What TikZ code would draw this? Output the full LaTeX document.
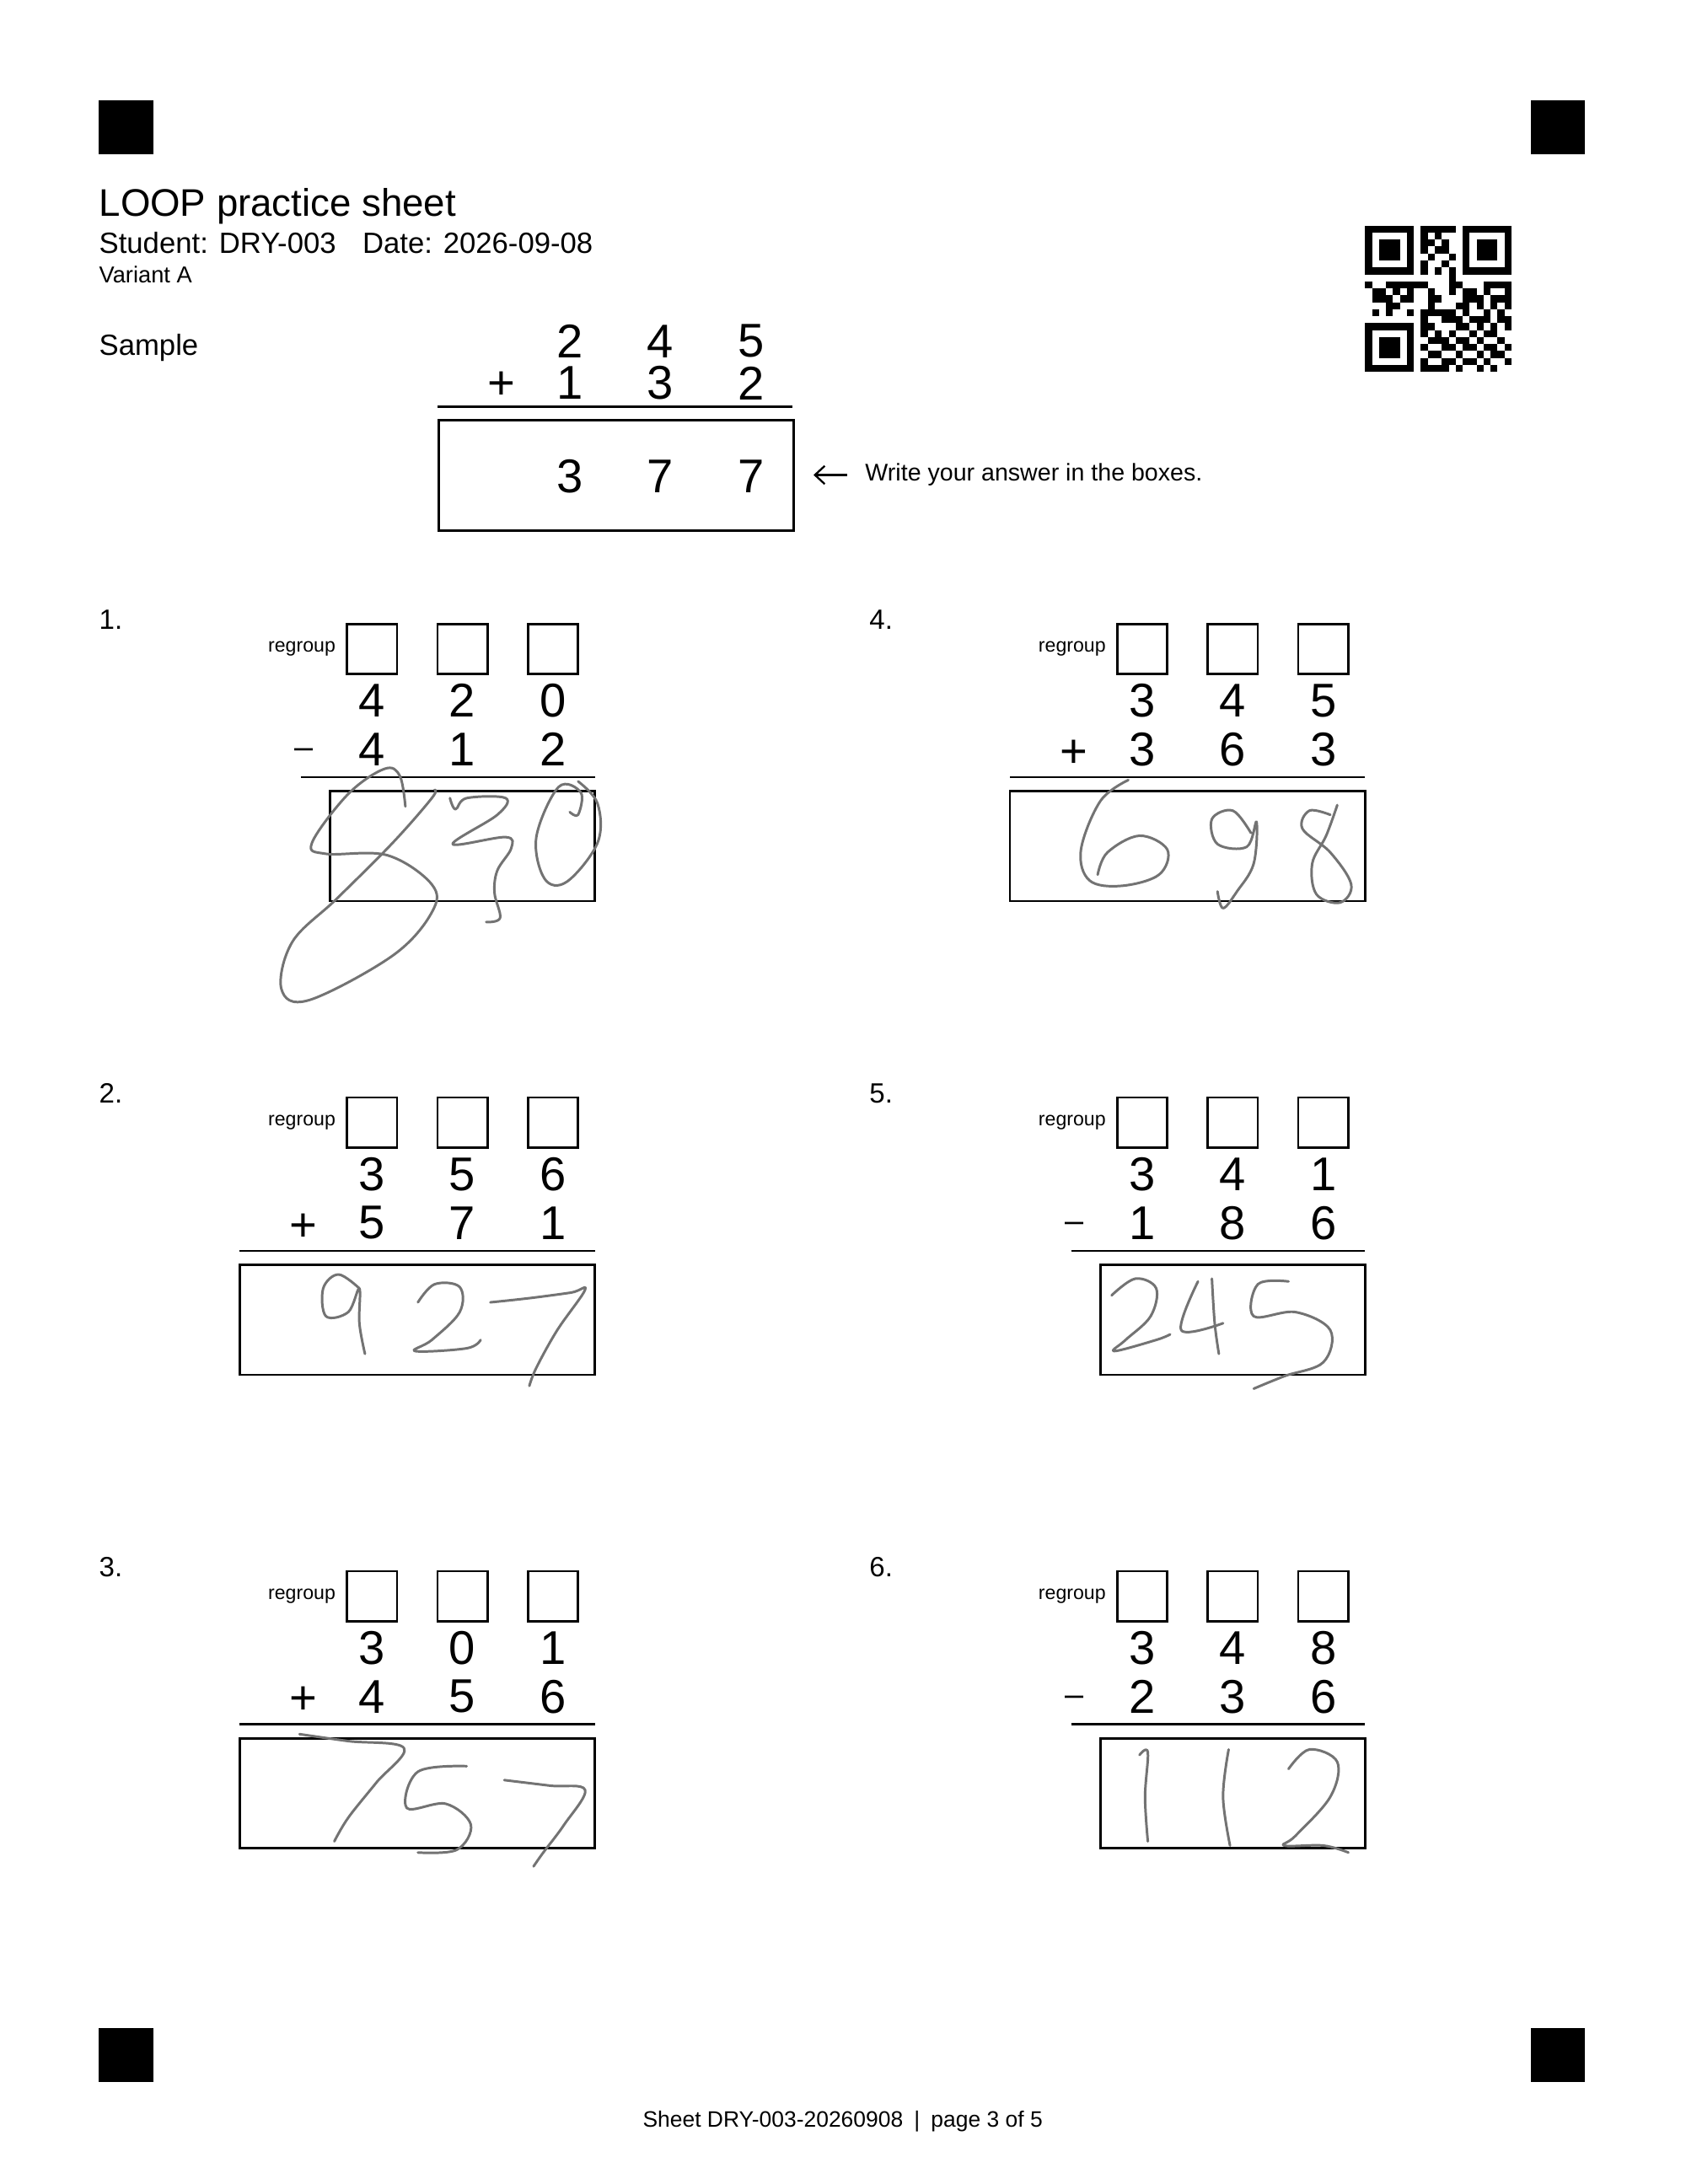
\documentclass[tikz,border=0pt]{standalone}
\usepackage{fontspec}
\setmainfont{Liberation Sans}
\usetikzlibrary{positioning,arrows.meta}

\tikzset{
  marker/.style={fill=black},
  digit/.style={anchor=center,inner sep=0pt,font=\fontsize{34}{34}\selectfont},
  ansbox/.style={draw,line width=1.6pt},
  regbox/.style={draw,line width=1.6pt,minimum size=36pt,inner sep=0pt},
  hand/.style={draw=black!55,line width=1.8pt,line cap=round,line join=round},
}

\begin{document}
\begin{tikzpicture}[x=1pt,y=-1pt]
  \useasboundingbox (0,0) rectangle (1210,1568);
  % corner markers
  \foreach \mx/\my in {71/72,1099/72,71/1456,1099/1456}
    \fill[marker] (\mx,\my) rectangle ++(39,39);

  % header
  \node[anchor=base west,font=\fontsize{27.6}{27.6}\selectfont,inner sep=0pt] (title) at (71,155) {LOOP practice sheet};
  \node[anchor=base west,font=\fontsize{21}{21}\selectfont,inner sep=0pt] (student) at (71,182) {Student: DRY-003\hspace{19pt}Date: 2026-09-08};
  \node[anchor=base west,font=\fontsize{16.5}{16.5}\selectfont,inner sep=0pt] (variant) at (71,203) {Variant A};

  % qr code
  \begin{scope}[shift={(980,162)},x=5pt,y=-5pt]
    \foreach \qx/\qy in {0/0,14/0,0/14}{
      \fill (\qx,\qy) rectangle ++(7,7);
      \fill[white] (\qx+1,\qy+1) rectangle ++(5,5);
      \fill (\qx+2,\qy+2) rectangle ++(3,3);
    }
    \foreach \c/\r in {8/0,9/0,10/0,11/0,12/0,8/1,10/1,8/2,9/2,11/2,8/3,10/3,11/3,9/4,12/4,8/5,11/5,
      8/6,10/6,12/6,12/7,0/8,3/8,4/8,5/8,6/8,7/8,8/8,12/8,13/8,17/8,18/8,19/8,20/8,
      1/9,2/9,4/9,6/9,9/9,12/9,14/9,15/9,17/9,20/9,1/10,2/10,3/10,5/10,6/10,9/10,10/10,14/10,15/10,16/10,18/10,19/10,20/10,
      3/11,4/11,9/11,13/11,14/11,16/11,18/11,20/11,1/12,3/12,6/12,8/12,9/12,10/12,11/12,12/12,14/12,17/12,19/12,
      8/13,11/13,12/13,13/13,15/13,16/13,17/13,19/13,20/13,8/14,9/14,13/14,14/14,16/14,18/14,20/14,
      8/15,10/15,12/15,15/15,17/15,18/15,9/16,10/16,11/16,13/16,14/16,16/16,19/16,
      8/17,11/17,12/17,14/17,15/17,17/17,18/17,20/17,9/18,10/18,13/18,16/18,18/18,19/18,
      8/19,11/19,12/19,14/19,15/19,17/19,20/19,8/20,9/20,10/20,11/20,13/20,16/20,18/20}
      \fill (\c,\r) rectangle ++(1,1);
  \end{scope}

  % sample
  \node[anchor=base west,font=\fontsize{21}{21}\selectfont,inner sep=0pt] (sample) at (71,255) {Sample};
  \node[digit] (s1) at (409,245) {2};
  \node[digit] (s2) at (474,245) {4};
  \node[digit] (s3) at (539,245) {5};
  \node[digit] (t1) at (409,275) {1};
  \node[digit] (t2) at (474,275) {3};
  \node[digit] (t3) at (539,275) {2};
  \node[digit] (splus) at (360,277) {+};
  \draw[line width=1.6pt] (314,292) -- (569,292);
  \node[ansbox,minimum width=255pt,minimum height=79pt,anchor=north west] (sbox) at (314,301) {};
  \node[digit] (a1) at (409,342) {3};
  \node[digit] (a2) at (474,342) {7};
  \node[digit] (a3) at (539,342) {7};
  \node[anchor=west,font=\fontsize{17.3}{17.3}\selectfont,inner sep=0pt] (hint) at (621,341) {Write your answer in the boxes.};
  \coordinate (arrtail) at (608,341);
  \coordinate (arrhead) at (584,341);
  \draw[line width=1.4pt,-{Straight Barb[length=7pt,width=13pt]}] (arrtail) -- (arrhead);

  % problems
  \foreach \n/\px/\py/\op/\ls/\a/\b/\c/\d/\e/\f in {
      1/0/0/{\fontsize{24}{24}\selectfont\textendash}/216/4/2/0/4/1/2,
      2/0/340/{+}/172/3/5/6/5/7/1,
      3/0/680/{+}/172/3/0/1/4/5/6,
      4/553/0/{+}/172/3/4/5/3/6/3,
      5/553/340/{\fontsize{24}{24}\selectfont\textendash}/216/3/4/1/1/8/6,
      6/553/680/{\fontsize{24}{24}\selectfont\textendash}/216/3/4/8/2/3/6}{
    \begin{scope}[shift={(\px,\py)}]
      \node[anchor=base west,font=\fontsize{20}{20}\selectfont,inner sep=0pt] (num\n) at (71,452) {\n.};
      \node[anchor=east,font=\fontsize{14}{14}\selectfont,inner sep=0pt] (reg\n) at (241,466) {regroup};
      \node[regbox] (rb\n a) at (267,466) {};
      \node[regbox] (rb\n b) at (332,466) {};
      \node[regbox] (rb\n c) at (397,466) {};
      \node[digit] (top\n a) at (267,503) {\a};
      \node[digit] (top\n b) at (332,503) {\b};
      \node[digit] (top\n c) at (397,503) {\c};
      \node[digit] (bot\n a) at (267,538) {\d};
      \node[digit] (bot\n b) at (332,538) {\e};
      \node[digit] (bot\n c) at (397,538) {\f};
      \node[digit] (op\n) at (218,541) {\op};
      \draw[line width=1.6pt] (\ls,558) -- (427,558);
      \ifnum\ls=216
        \draw[ansbox] (237,568) rectangle (427,647);
      \else
        \draw[ansbox] (172,568) rectangle (427,647);
      \fi
    \end{scope}
  }

  % handwritten answers
  \draw[hand] plot[smooth,tension=0.6] coordinates {(291,579) (287,557) (276,552) (250,570) (224,605) (234,613) (278,614) (310,635) (310,655) (282,686) (222,718) (202,710) (210,676) (242,645) (282,605) (310,573) (312,567)};
  \draw[hand] plot[smooth,tension=0.6] coordinates {(323,573) (327,581) (335,573) (363,573) (357,585) (325,606) (363,601) (367,609) (357,625) (355,641) (359,659) (349,662)};
  \draw[hand] plot[smooth,tension=0.6] coordinates {(409,583) (415,585) (417,569) (401,565) (385,601) (391,631) (407,633) (429,605) (429,577) (415,561)};

  \draw[hand] plot[smooth,tension=0.6] coordinates {(810,560) (790,575) (776,610) (782,632) (805,636) (832,628) (838,610) (818,600) (795,612) (788,628)};
  \draw[hand] plot[smooth,tension=0.6] coordinates {(898,598) (885,582) (870,588) (874,606) (895,608) (902,590) (900,620) (888,640) (878,652) (874,640)};
  \draw[hand] plot[smooth,tension=0.6] coordinates {(955,585) (940,582) (935,595) (955,612) (970,635) (962,648) (945,642) (942,620) (952,600) (960,578)};

  \draw[hand] plot[smooth,tension=0.6] coordinates {(258,925) (243,915) (232,925) (234,945) (250,942) (258,925) (258,950) (262,972)};
  \draw[hand] plot[smooth,tension=0.6] coordinates {(300,935) (312,922) (330,924) (330,942) (310,962) (298,970) (335,968) (345,962)};
  \draw[hand] plot[smooth,tension=0.6] coordinates {(352,935) (380,932) (410,928) (420,926) (400,955) (385,982) (380,995)};

  \draw[hand] plot[smooth,tension=0.6] coordinates {(798,930) (815,918) (830,925) (826,945) (808,962) (800,970) (830,962) (840,958)};
  \draw[hand] plot[smooth,tension=0.6] coordinates {(860,920) (848,955) (878,950)};
  \draw[hand] plot[smooth,tension=0.6] coordinates {(870,918) (872,950) (875,972)};
  \draw[hand] plot[smooth,tension=0.6] coordinates {(925,920) (903,922) (900,945) (930,942) (955,955) (950,978) (922,988) (900,997)};

  \draw[hand] plot[smooth,tension=0.6] coordinates {(215,1245) (250,1250) (290,1255) (270,1280) (250,1305) (240,1322)};
  \draw[hand] plot[smooth,tension=0.6] coordinates {(335,1268) (300,1272) (292,1298) (320,1295) (338,1310) (328,1328) (300,1330)};
  \draw[hand] plot[smooth,tension=0.6] coordinates {(362,1278) (395,1282) (420,1285) (405,1310) (390,1330) (383,1340)};

  \draw[hand] plot[smooth,tension=0.6] coordinates {(818,1260) (824,1258) (822,1290) (824,1322)};
  \draw[hand] plot[smooth,tension=0.6] coordinates {(882,1256) (878,1290) (883,1325)};
  \draw[hand] plot[smooth,tension=0.6] coordinates {(925,1270) (940,1256) (960,1265) (955,1290) (930,1318) (922,1325) (950,1325) (968,1330)};

  % footer
  \node[font=\fontsize{16}{16}\selectfont,inner sep=0pt] (footer) at (605,1523) {Sheet DRY-003-20260908\hspace{8pt}|\hspace{8pt}page 3 of 5};
\end{tikzpicture}
\end{document}
